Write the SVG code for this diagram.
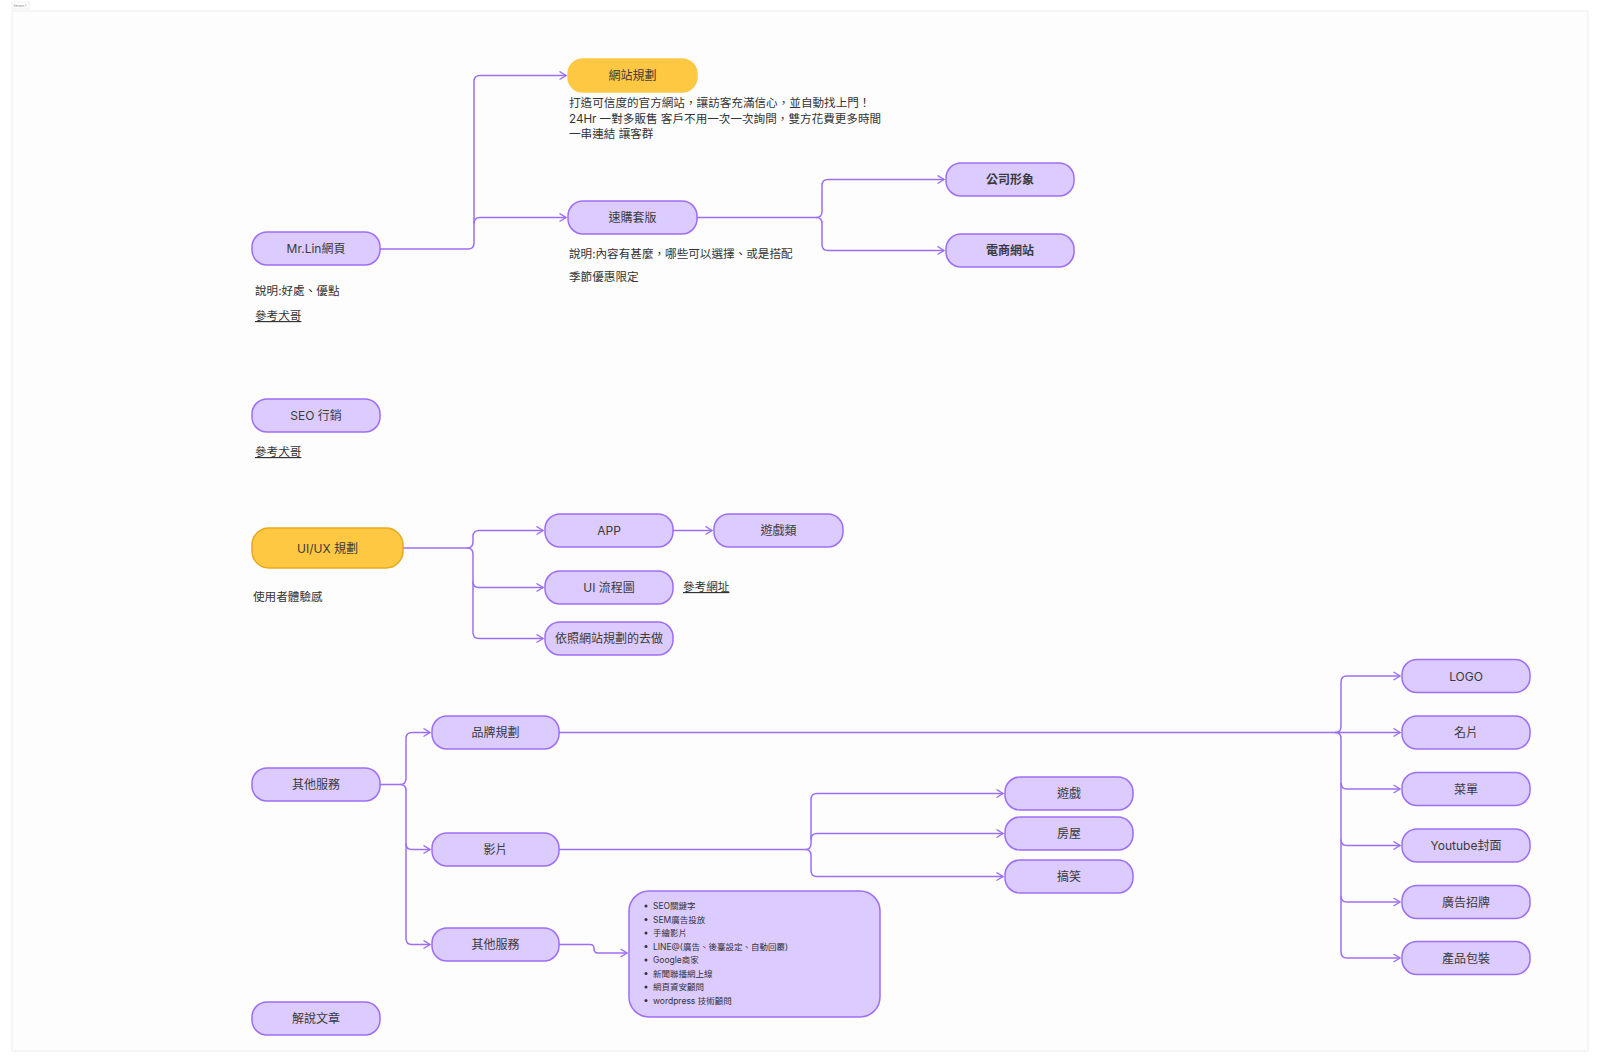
<svg xmlns="http://www.w3.org/2000/svg" width="1600" height="1063" viewBox="0 0 1600 1063">
<defs>
<style>
.frame{fill:#fdfdfd;stroke:#ededed;stroke-width:1}
.n{fill:#dccbff;stroke:#9d6ef6;stroke-width:1.5}
.y{fill:#ffc843;stroke:#ffc843;stroke-width:1.5}
.yo{fill:#ffc843;stroke:#e9a81c;stroke-width:1.5}
.t{font-family:Inter,"Noto Sans CJK TC",sans-serif;font-size:12px;fill:#3a3a3a;text-anchor:middle;dominant-baseline:central}
.tb{font-weight:bold}
.d{font-family:Inter,"Noto Sans CJK TC",sans-serif;font-size:11.6px;fill:#333}
.u{text-decoration:underline}
.li{font-family:Inter,"Noto Sans CJK TC",sans-serif;font-size:8.5px;fill:#333}
.c{fill:none;stroke:#9d6ef6;stroke-width:1.5;marker-end:url(#ah)}
</style>
<marker id="ah" viewBox="0 0 8 10" refX="7.5" refY="5" markerWidth="8" markerHeight="10" markerUnits="userSpaceOnUse" orient="auto">
<path d="M1,1 L7.5,5 L1,9" fill="none" stroke="#9d6ef6" stroke-width="1.4"/>
</marker>
</defs>
<rect x="0" y="0" width="1600" height="1063" fill="#ffffff"/>
<rect class="frame" x="12" y="11" width="1576" height="1040"/>
<g id="section-label">
<rect x="12" y="2" width="17" height="7" fill="#ffffff" stroke="#dddddd" stroke-width="0.5"/>
<text x="13.5" y="7" font-family="Inter,sans-serif" font-size="3" fill="#777">Section 1</text>
</g>

<g id="connectors">
<path class="c" d="M380,249 H468 Q474,249 474,243 V81.5 Q474,75.5 480,75.5 H566"/>
<path class="c" d="M474,223.5 Q474,217.5 480,217.5 H566"/>
<path class="c" d="M697,217.5 H816 Q822,217.5 822,211.5 V185.5 Q822,179.5 828,179.5 H944"/>
<path class="c" d="M816,217.5 Q822,217.5 822,223.5 V244.5 Q822,250.5 828,250.5 H944"/>
<path class="c" d="M403,548 H467 Q473,548 473,542 V536.5 Q473,530.5 479,530.5 H543"/>
<path class="c" d="M467,548 Q473,548 473,554 V581.5 Q473,587.5 479,587.5 H543"/>
<path class="c" d="M473,581.5 V632.5 Q473,638.5 479,638.5 H543"/>
<path class="c" d="M673,530.5 H712"/>
<path class="c" d="M380,784.5 H400 Q406,784.5 406,778.5 V738.5 Q406,732.5 412,732.5 H430"/>
<path class="c" d="M400,784.5 Q406,784.5 406,790.5 V843.5 Q406,849.5 412,849.5 H430"/>
<path class="c" d="M406,843.5 V938.5 Q406,944.5 412,944.5 H430"/>
<path class="c" d="M559,732.5 H1400"/>
<path class="c" d="M1335,732.5 Q1341,732.5 1341,726.5 V682 Q1341,676 1347,676 H1400"/>
<path class="c" d="M1335,732.5 Q1341,732.5 1341,738.5 V783 Q1341,789 1347,789 H1400"/>
<path class="c" d="M1341,783 V839.5 Q1341,845.5 1347,845.5 H1400"/>
<path class="c" d="M1341,839.5 V896 Q1341,902 1347,902 H1400"/>
<path class="c" d="M1341,896 V952 Q1341,958 1347,958 H1400"/>
<path class="c" d="M559,849.5 H805 Q811,849.5 811,843.5 V799.5 Q811,793.5 817,793.5 H1003"/>
<path class="c" d="M811,839.5 Q811,833.5 817,833.5 H1003"/>
<path class="c" d="M805,849.5 Q811,849.5 811,855.5 V870.5 Q811,876.5 817,876.5 H1003"/>
<path class="c" d="M559,944.5 H590 Q594,944.5 594,948.5 V949 Q594,953 598,953 H627"/>
</g>

<g id="node-mrlin">
<rect class="n" x="252" y="232" width="128" height="33" rx="15"/>
<text class="t" x="316" y="248.5">Mr.Lin網頁</text>
</g>
<g id="note-mrlin">
<text class="d" x="255" y="295">說明:好處、優點</text>
<text class="d u" x="255" y="320">參考犬哥</text>
</g>

<g id="node-website-plan">
<rect class="y" x="568" y="59" width="129" height="33" rx="15"/>
<text class="t" x="632.5" y="75.5">網站規劃</text>
</g>
<g id="note-website-plan">
<text class="d" x="569" y="107">打造可信度的官方網站，讓訪客充滿信心，並自動找上門！</text>
<text class="d" x="569" y="123">24Hr 一對多販售 客戶不用一次一次詢問，雙方花費更多時間</text>
<text class="d" x="569" y="138">一串連結 讓客群</text>
</g>

<g id="node-template">
<rect class="n" x="568" y="201" width="129" height="33" rx="15"/>
<text class="t" x="632.5" y="217.5">速購套版</text>
</g>
<g id="note-template">
<text class="d" x="569" y="258">說明:內容有甚麼，哪些可以選擇、或是搭配</text>
<text class="d" x="569" y="281">季節優惠限定</text>
</g>

<g id="node-company">
<rect class="n" x="946" y="163" width="128" height="33" rx="15"/>
<text class="t tb" x="1010" y="179.5">公司形象</text>
</g>
<g id="node-ecommerce">
<rect class="n" x="946" y="234" width="128" height="33" rx="15"/>
<text class="t tb" x="1010" y="250.5">電商網站</text>
</g>

<g id="node-seo">
<rect class="n" x="252" y="399" width="128" height="33" rx="15"/>
<text class="t" x="316" y="415.5">SEO 行銷</text>
</g>
<g id="note-seo">
<text class="d u" x="255" y="456">參考犬哥</text>
</g>

<g id="node-uiux">
<rect class="yo" x="252" y="528" width="151" height="40" rx="17"/>
<text class="t" x="327.5" y="548">UI/UX 規劃</text>
</g>
<g id="note-uiux">
<text class="d" x="253" y="601">使用者體驗感</text>
</g>

<g id="node-app">
<rect class="n" x="545" y="514" width="128" height="33" rx="15"/>
<text class="t" x="609" y="530.5">APP</text>
</g>
<g id="node-game-type">
<rect class="n" x="714" y="514" width="129" height="33" rx="15"/>
<text class="t" x="778.5" y="530.5">遊戲類</text>
</g>
<g id="node-ui-flow">
<rect class="n" x="545" y="571" width="128" height="33" rx="15"/>
<text class="t" x="609" y="587.5">UI 流程圖</text>
</g>
<g id="note-ui-flow">
<text class="d u" x="683" y="591">參考網址</text>
</g>
<g id="node-follow">
<rect class="n" x="545" y="622" width="128" height="33" rx="15"/>
<text class="t" x="609" y="638.5">依照網站規劃的去做</text>
</g>

<g id="node-other">
<rect class="n" x="252" y="768" width="128" height="33" rx="15"/>
<text class="t" x="316" y="784.5">其他服務</text>
</g>
<g id="node-brand">
<rect class="n" x="432" y="716" width="127" height="33" rx="15"/>
<text class="t" x="495.5" y="732.5">品牌規劃</text>
</g>
<g id="node-video">
<rect class="n" x="432" y="833" width="127" height="33" rx="15"/>
<text class="t" x="495.5" y="849.5">影片</text>
</g>
<g id="node-other2">
<rect class="n" x="432" y="928" width="127" height="33" rx="15"/>
<text class="t" x="495.5" y="944.5">其他服務</text>
</g>
<g id="node-article">
<rect class="n" x="252" y="1002" width="128" height="33" rx="15"/>
<text class="t" x="316" y="1018.5">解說文章</text>
</g>

<g id="node-list">
<rect class="n" x="629" y="891" width="251" height="126" rx="20"/>
<g fill="#333">
<circle cx="646" cy="906" r="1.5"/><circle cx="646" cy="919.5" r="1.5"/><circle cx="646" cy="933" r="1.5"/><circle cx="646" cy="946.5" r="1.5"/>
<circle cx="646" cy="960" r="1.5"/><circle cx="646" cy="973.5" r="1.5"/><circle cx="646" cy="987" r="1.5"/><circle cx="646" cy="1000.5" r="1.5"/>
</g>
<text class="li" x="653" y="909">SEO關鍵字</text>
<text class="li" x="653" y="922.5">SEM廣告投放</text>
<text class="li" x="653" y="936">手繪影片</text>
<text class="li" x="653" y="949.5">LINE@(廣告、後臺設定、自動回覆)</text>
<text class="li" x="653" y="963">Google商家</text>
<text class="li" x="653" y="976.5">新聞聯播網上線</text>
<text class="li" x="653" y="990">網頁資安顧問</text>
<text class="li" x="653" y="1003.5">wordpress 技術顧問</text>
</g>

<g id="node-game">
<rect class="n" x="1005" y="777" width="128" height="33" rx="15"/>
<text class="t" x="1069" y="793.5">遊戲</text>
</g>
<g id="node-house">
<rect class="n" x="1005" y="817" width="128" height="33" rx="15"/>
<text class="t" x="1069" y="833.5">房屋</text>
</g>
<g id="node-funny">
<rect class="n" x="1005" y="860" width="128" height="33" rx="15"/>
<text class="t" x="1069" y="876.5">搞笑</text>
</g>

<g id="node-logo">
<rect class="n" x="1402" y="659.5" width="128" height="33" rx="15"/>
<text class="t" x="1466" y="676">LOGO</text>
</g>
<g id="node-card">
<rect class="n" x="1402" y="716" width="128" height="33" rx="15"/>
<text class="t" x="1466" y="732.5">名片</text>
</g>
<g id="node-menu">
<rect class="n" x="1402" y="772.5" width="128" height="33" rx="15"/>
<text class="t" x="1466" y="789">菜單</text>
</g>
<g id="node-youtube">
<rect class="n" x="1402" y="829" width="128" height="33" rx="15"/>
<text class="t" x="1466" y="845.5">Youtube封面</text>
</g>
<g id="node-sign">
<rect class="n" x="1402" y="885.5" width="128" height="33" rx="15"/>
<text class="t" x="1466" y="902">廣告招牌</text>
</g>
<g id="node-package">
<rect class="n" x="1402" y="941.5" width="128" height="33" rx="15"/>
<text class="t" x="1466" y="958">產品包裝</text>
</g>
</svg>
